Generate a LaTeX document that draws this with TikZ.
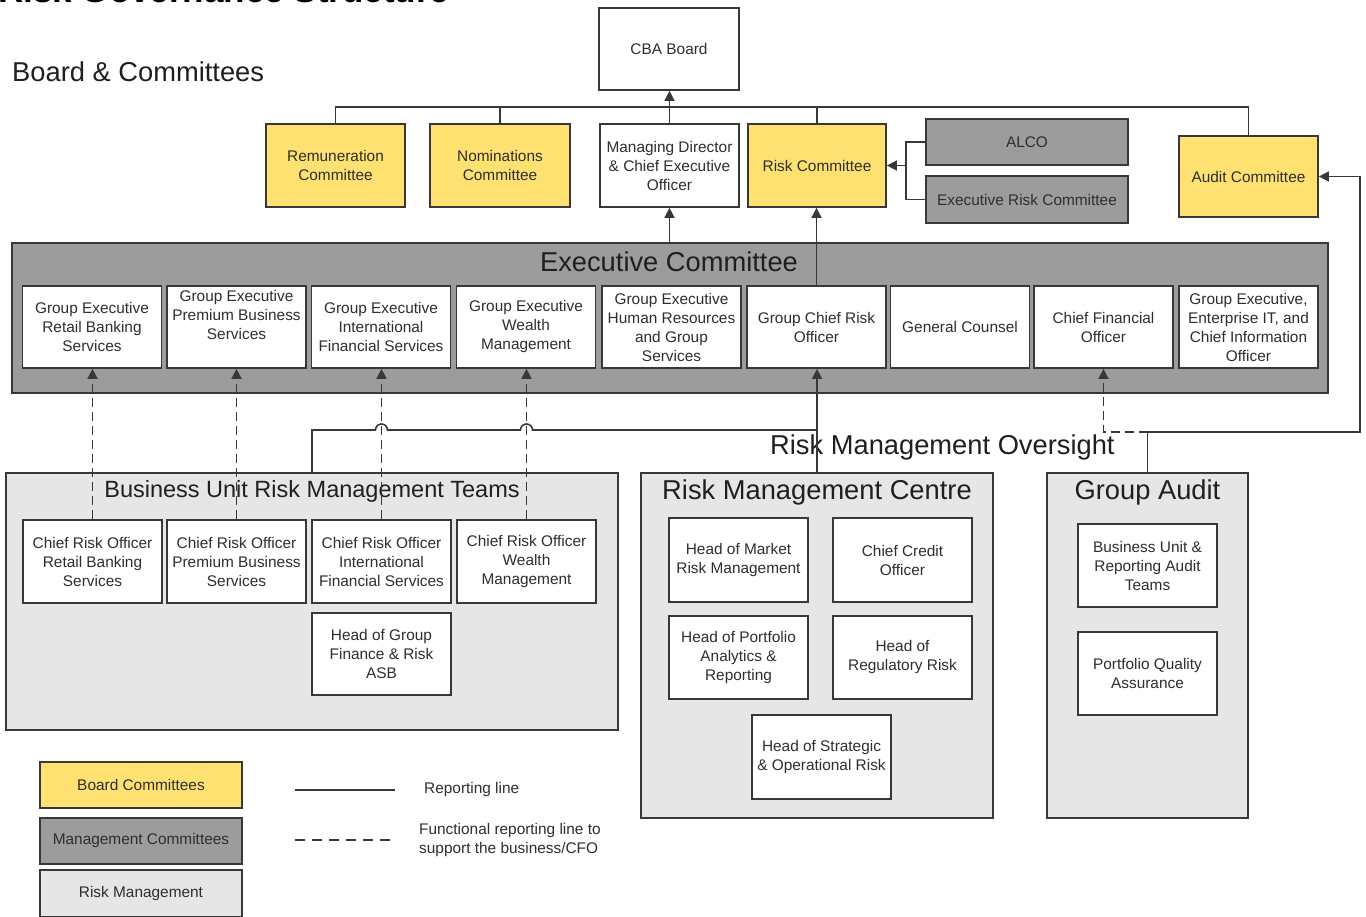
\documentclass[tikz,border=0pt]{standalone}
\usepackage{fontspec}
\setmainfont{Liberation Sans}
\usetikzlibrary{arrows.meta,calc}

\definecolor{boardyel}{HTML}{FFE172}
\definecolor{mgmtgray}{HTML}{9C9C9C}
\definecolor{riskgray}{HTML}{E6E6E6}
\definecolor{edge}{HTML}{383838}
\definecolor{ink}{HTML}{2E2E2E}

\tikzset{
  unit/.style={draw=edge, line width=1.7pt, fill=white, minimum width=139pt,
    minimum height=83pt, align=center, text=ink, inner sep=0pt,
    font=\fontsize{15.4}{19}\selectfont},
  board/.style={unit, fill=boardyel},
  mgmt/.style={unit, fill=mgmtgray, minimum width=202pt, minimum height=46pt},
  area/.style={draw=edge, line width=1.7pt, fill=riskgray, inner sep=0pt},
  heading/.style={font=\fontsize{27.3}{32}\selectfont, text=black!88, inner sep=0pt},
  note/.style={font=\fontsize{15.4}{19}\selectfont, text=ink, inner sep=0pt, align=left},
  link/.style={draw=edge, line width=1.6pt},
  tip/.style={-{Triangle[length=10pt,width=10pt]}},
  arr/.style={link, tip},
  fline/.style={link, dash pattern=on 9pt off 5pt},
}

\begin{document}
\begin{tikzpicture}[x=1pt, y=-1pt]
\useasboundingbox (0,0) rectangle (1366,917);
\clip (0,0) rectangle (1366,917);
\fill[white] (0,0) rectangle (1366,917);

% page title and section heading
\node[anchor=base west, inner sep=0pt, font=\bfseries\fontsize{35}{40}\selectfont] (title) at (-2,3) {Risk Governance Structure};
\node[heading, anchor=west] (bchead) at (12,72) {Board \& Committees};

% board level
\node[unit, minimum width=140pt, minimum height=82pt] (cba) at (669,49) {CBA Board};
\node[board] (rem) at (335.5,165.5) {Remuneration\\Committee};
\node[board, minimum width=140pt] (nom) at (500,165.5) {Nominations\\Committee};
\node[unit] (mdceo) at (669.5,165.5) {Managing Director\\\& Chief Executive\\Officer};
\node[board, minimum width=138pt] (riskc) at (817,165.5) {Risk Committee};
\node[mgmt] (alco) at (1027,142) {ALCO};
\node[mgmt, minimum height=47pt] (erc) at (1027,199.5) {Executive Risk Committee};
\node[board, minimum height=81pt] (audc) at (1248.5,176.5) {Audit Committee};

% executive committee
\node[draw=edge, line width=1.7pt, fill=mgmtgray, minimum width=1316pt, minimum height=150pt, inner sep=0pt] (exco) at (670,318) {};
\node[heading] (excohead) at (669,262) {Executive Committee};
\node[unit, minimum height=82pt] (ge1) at (92,327) {Group Executive\\Retail Banking\\Services};
\node[unit, minimum height=82pt] (ge2) at (236.5,327) {Group Executive\\Premium Business\\Services\\[6pt]};
\node[unit, minimum height=82pt] (ge3) at (381,327) {Group Executive\\International\\Financial Services};
\node[unit, minimum height=82pt] (ge4) at (526,327) {Group Executive\\Wealth\\Management};
\node[unit, minimum height=82pt] (ge5) at (671.5,327) {Group Executive\\Human Resources\\and Group\\Services};
\node[unit, minimum height=82pt] (ge6) at (816.5,327) {Group Chief Risk\\Officer};
\node[unit, minimum height=82pt] (ge7) at (960,327) {General Counsel};
\node[unit, minimum height=82pt] (ge8) at (1103.5,327) {Chief Financial\\Officer};
\node[unit, minimum height=82pt] (ge9) at (1248.5,327) {Group Executive,\\Enterprise IT, and\\Chief Information\\Officer};

% risk management areas
\node[area, minimum width=612pt, minimum height=257pt] (bu) at (312,601.5) {};
\node[heading, font=\fontsize{23.5}{28}\selectfont] (buhead) at (312,491) {Business Unit Risk Management Teams};
\node[unit] (cro1) at (92.5,561.5) {Chief Risk Officer\\Retail Banking\\Services};
\node[unit] (cro2) at (236.5,561.5) {Chief Risk Officer\\Premium Business\\Services};
\node[unit] (cro3) at (381.5,561.5) {Chief Risk Officer\\International\\Financial Services};
\node[unit] (cro4) at (526.5,561.5) {Chief Risk Officer\\Wealth\\Management};
\node[unit, minimum height=82pt] (hgf) at (381.5,654) {Head of Group\\Finance \& Risk\\ASB};

\node[area, minimum width=352pt, minimum height=345pt] (rmc) at (817,645.5) {};
\node[heading] (rmchead) at (817,492) {Risk Management Centre};
\node[unit, minimum height=84pt] (hmr) at (738.5,560) {Head of Market\\Risk Management};
\node[unit, minimum height=84pt] (cco) at (902.5,560) {Chief Credit\\Officer};
\node[unit] (hpa) at (738.5,657.5) {Head of Portfolio\\Analytics \&\\Reporting};
\node[unit] (hrr) at (902.5,657.5) {Head of\\Regulatory Risk};
\node[unit, minimum height=84pt] (hso) at (821.5,757) {Head of Strategic\\\& Operational Risk};

\node[area, minimum width=201pt, minimum height=345pt] (ga) at (1147.5,645.5) {};
\node[heading] (gahead) at (1147.5,492) {Group Audit};
\node[unit] (bua) at (1147.5,565.5) {Business Unit \&\\Reporting Audit\\Teams};
\node[unit] (pqa) at (1147.5,673.5) {Portfolio Quality\\Assurance};

\node[heading, anchor=west] (rmo) at (770,447) {Risk Management Oversight};

% board committee bus
\coordinate (bus) at (0,107);
\draw[link] (rem.north) -- (rem.north |- bus) -| (audc.north);
\draw[link] (nom.north) -- (nom.north |- bus);
\draw[link] (riskc.north) -- (riskc.north |- bus);
\draw[arr] (mdceo.north) -- (mdceo.north |- cba.south);

% management committees into the risk committee
\coordinate (mj) at (906,165.5);
\draw[link] (alco.west) -| (mj) |- (erc.west);
\draw[arr] (mj) -- (riskc.east);

% executive committee upward lines
\draw[arr] (mdceo.south |- exco.north) -- (mdceo.south);
\draw[arr] (ge6.north) -- (ge6.north |- riskc.south);

% functional reporting lines from the business unit teams
\draw[fline, tip] (cro1.north) -- (cro1.north |- ge1.south);
\draw[fline, tip] (cro2.north) -- (cro2.north |- ge2.south);
\draw[fline, tip] (cro3.north) -- (cro3.north |- ge3.south);
\draw[fline, tip] (cro4.north) -- (cro4.north |- ge4.south);

% risk management oversight
\coordinate (ov) at (0,430);
\draw[arr] (rmc.north) -- (rmc.north |- ge6.south);
\draw[link] (bu.north) -- (bu.north |- ov)
  -- ($(cro3.north |- ov)+(-6,0)$) arc[start angle=180, end angle=0, radius=6pt]
  -- ($(cro4.north |- ov)+(-6,0)$) arc[start angle=180, end angle=0, radius=6pt]
  -- (rmc.north |- ov);

% group audit lines
\coordinate (gj) at (ga.north |- 0,432);
\coordinate (rr) at (1360,432);
\draw[arr] (ga.north) -- (gj) -- (rr) |- (audc.east);
\draw[fline, tip] (gj) -| (ge8.south);

% legend
\node[board, minimum width=202pt, minimum height=46pt] (lg1) at (141,785) {Board Committees};
\node[mgmt] (lg2) at (141,841) {Management Committees};
\node[unit, fill=riskgray, minimum width=202pt, minimum height=47pt] (lg3) at (141,893.5) {Risk Management};
\coordinate (ls1) at (295,790);
\coordinate (ls2) at (395,790);
\coordinate (ld1) at (295,840);
\coordinate (ld2) at (395,840);
\draw[link] (ls1) -- (ls2);
\draw[link, dash pattern=on 10pt off 7pt] (ld1) -- (ld2);
\node[note, anchor=west] (lt1) at (424,790) {Reporting line};
\node[note, anchor=west] (lt2) at (419,840) {Functional reporting line to\\support the business/CFO};
\end{tikzpicture}
\end{document}
